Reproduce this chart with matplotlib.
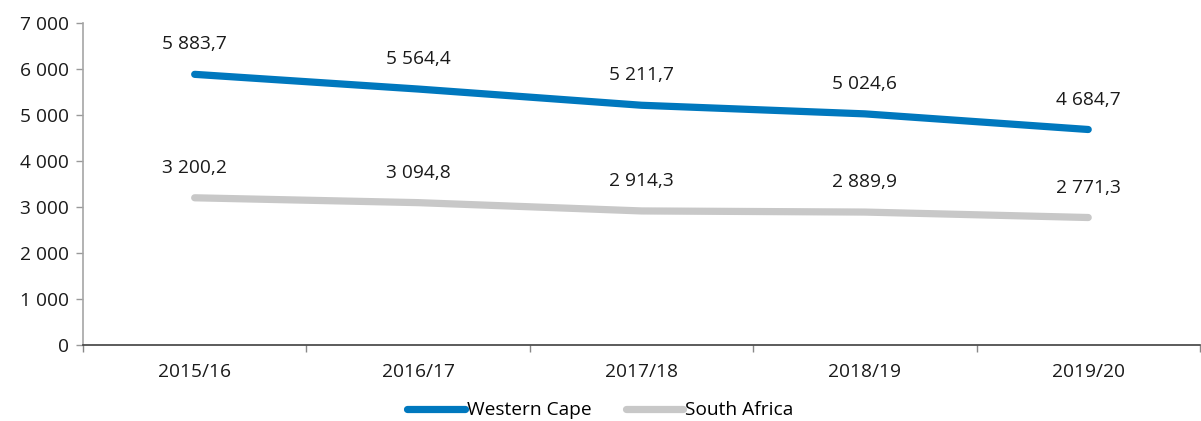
import matplotlib
matplotlib.use("Agg")
import matplotlib.pyplot as plt
from matplotlib.ticker import FixedLocator, FuncFormatter

categories = ["2015/16", "2016/17", "2017/18", "2018/19", "2019/20"]
western_cape = [5883.7, 5564.4, 5211.7, 5024.6, 4684.7]
south_africa = [3200.2, 3094.8, 2914.3, 2889.9, 2771.3]

plt.rcParams['font.family'] = ['Open Sans', 'DejaVu Sans']
FS = 13.8

fig = plt.figure(figsize=(12.01, 4.21), dpi=100)
ax = fig.add_axes([0.0691, 0.1805, 0.9300, 0.7649])

x = list(range(len(categories)))
blue = "#0078BE"
gray = "#C8C8C8"
ax.plot(x, western_cape, color=blue, lw=5.2, solid_capstyle="round", label="Western Cape", zorder=3)
ax.plot(x, south_africa, color=gray, lw=5.2, solid_capstyle="round", label="South Africa", zorder=2)

def fmt(v):
    return f"{v:,.1f}".replace(",", " ").replace(".", ",")

for xi, v in zip(x, western_cape):
    ax.annotate(fmt(v), (xi, v), xytext=(0, 21.5), textcoords="offset points",
                ha="center", va="center", fontsize=FS, color="#1a1a1a")
for xi, v in zip(x, south_africa):
    ax.annotate(fmt(v), (xi, v), xytext=(0, 21.5), textcoords="offset points",
                ha="center", va="center", fontsize=FS, color="#1a1a1a")

ax.set_xlim(-0.5, len(categories) - 0.5)
ax.set_ylim(0, 7000)
ax.yaxis.set_major_locator(FixedLocator(range(0, 7001, 1000)))
ax.yaxis.set_major_formatter(FuncFormatter(lambda v, p: f"{int(v):,}".replace(",", " ")))
ax.set_xticks(x)
ax.set_xticklabels(categories)
ax.xaxis.set_minor_locator(FixedLocator([i - 0.5 for i in range(len(categories) + 1)]))
ax.tick_params(axis="x", which="major", length=0, pad=13, labelsize=FS, colors="#1a1a1a")
ax.tick_params(axis="x", which="minor", length=5, color="#888888", width=1)
ax.tick_params(axis="y", length=5, color="#999999", width=1, labelsize=FS, labelcolor="#1a1a1a", pad=5)

for s in ["top", "right"]:
    ax.spines[s].set_visible(False)
ax.spines["left"].set_color("#A6A6A6")
ax.spines["left"].set_linewidth(1.2)
ax.spines["bottom"].set_color("#404040")
ax.spines["bottom"].set_linewidth(1.2)

leg = fig.legend(loc="center", bbox_to_anchor=(0.5, 0.025), ncol=2, frameon=False,
                 fontsize=FS, handlelength=3.0, handletextpad=0.1, columnspacing=1.8)

fig.savefig("out.png", dpi=100)
